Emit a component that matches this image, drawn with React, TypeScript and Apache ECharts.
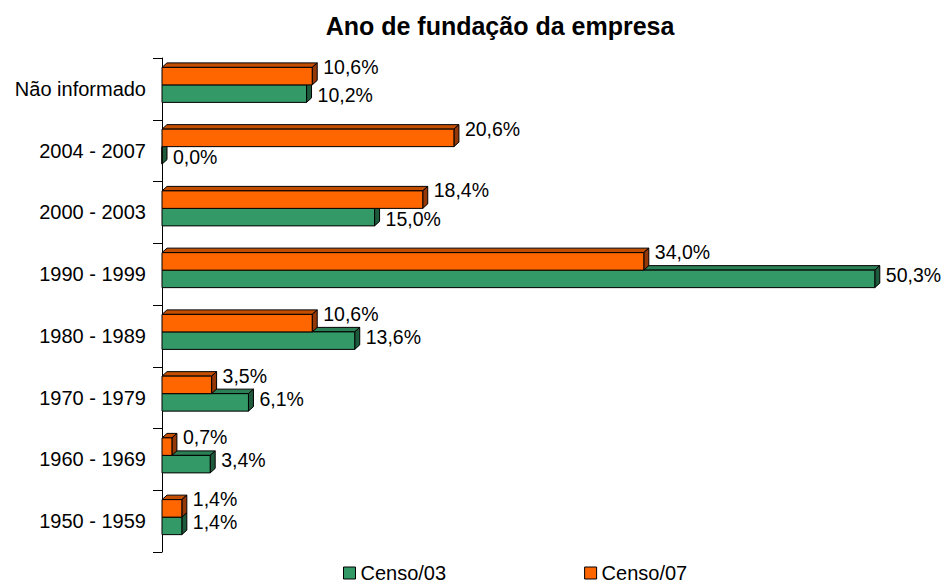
import React, { useEffect, useRef } from "react";
import * as echarts from "echarts";

const categories = [
  "1950 - 1959",
  "1960 - 1969",
  "1970 - 1979",
  "1980 - 1989",
  "1990 - 1999",
  "2000 - 2003",
  "2004 - 2007",
  "Não informado",
];
const censo03 = [1.4, 3.4, 6.1, 13.6, 50.3, 15.0, 0.0, 10.2];
const censo07 = [1.4, 0.7, 3.5, 10.6, 34.0, 18.4, 20.6, 10.6];
const seriesNames = ["Censo/03", "Censo/07"];
const titleText = "Ano de fundação da empresa";

const FONT = '"Liberation Sans", Arial, Helvetica, sans-serif';

const fmt = (v: number) => v.toFixed(1).replace(".", ",") + "%";

function makeRender(
  front: string,
  top: string,
  side: string,
  frontOffset: number,
  labelOffset: (v: number, ci: number) => number
) {
  return (params: any, api: any) => {
    const v = api.value(0);
    const ci = api.value(1);
    const p = api.coord([v, ci]);
    const p0 = api.coord([0, ci]);
    const barH = 17.5;
    const dx = 5;
    const dy = 4.5;
    const x0 = p0[0];
    const x1 = p[0];
    const t = p[1] + frontOffset;
    const stroke = "#000";
    return {
      type: "group",
      children: [
        {
          type: "polygon",
          shape: { points: [[x0, t], [x0 + dx, t - dy], [x1 + dx, t - dy], [x1, t]] },
          style: { fill: top, stroke, lineWidth: 1 },
        },
        {
          type: "polygon",
          shape: { points: [[x1, t], [x1 + dx, t - dy], [x1 + dx, t - dy + barH], [x1, t + barH]] },
          style: { fill: side, stroke, lineWidth: 1 },
        },
        {
          type: "rect",
          shape: { x: x0, y: t, width: Math.max(x1 - x0, 0), height: barH },
          style: { fill: front, stroke, lineWidth: 1 },
        },
        {
          type: "text",
          style: {
            text: fmt(v),
            x: x1 + 11,
            y: p[1] + labelOffset(v, ci),
            fill: "#000",
            fontSize: 19.5,
            fontFamily: FONT,
            align: "left",
            verticalAlign: "middle",
          },
        },
      ],
    };
  };
}

export default function App() {
  const ref = useRef<HTMLDivElement>(null);
  useEffect(() => {
    if (!ref.current) return;
    const chart = echarts.init(ref.current, null, { renderer: "svg" });
    chart.setOption({
      animation: false,
      backgroundColor: "#fff",
      title: {
        text: titleText,
        left: 500,
        textAlign: "center",
        top: 13,
        padding: 0,
        textStyle: { fontSize: 25, fontWeight: "bold", color: "#000", fontFamily: FONT },
      },
      legend: {
        data: seriesNames,
        left: 343,
        top: 563,
        padding: 0,
        itemWidth: 12,
        itemHeight: 12,
        itemGap: 138,
        icon: "rect",
        itemStyle: { borderColor: "#000", borderWidth: 1 },
        textStyle: { fontSize: 20, color: "#000", fontFamily: FONT, padding: 0 },
      },
      grid: { left: 162, right: 3.6, top: 58, bottom: 31, containLabel: false },
      xAxis: { type: "value", min: 0, max: 55, show: false },
      yAxis: {
        type: "category",
        data: categories,
        offset: 3,
        axisLine: { show: true, lineStyle: { color: "#000", width: 1 } },
        axisTick: { show: true, length: 9, lineStyle: { color: "#000" } },
        axisLabel: { fontSize: 20, color: "#000", fontFamily: FONT, margin: 13 },
        splitLine: { show: false },
      },
      series: [
        {
          name: seriesNames[0],
          type: "custom",
          itemStyle: { color: "#339966" },
          encode: { x: 0, y: 1 },
          data: censo03.map((v, i) => [v, i]),
          renderItem: makeRender("#339966", "#2B8055", "#1E5A3C", -4, (v, ci) =>
            censo07[ci] > v ? 6.5 : 1
          ),
        },
        {
          name: seriesNames[1],
          type: "custom",
          itemStyle: { color: "#FF6600" },
          encode: { x: 0, y: 1 },
          data: censo07.map((v, i) => [v, i]),
          renderItem: makeRender("#FF6600", "#C44E00", "#943808", -21.5, () => -22),
        },
      ],
    });
    return () => chart.dispose();
  }, []);
  return (
    <div
      ref={ref}
      style={{ position: "fixed", left: 0, top: 0, width: 945, height: 583 }}
    />
  );
}
